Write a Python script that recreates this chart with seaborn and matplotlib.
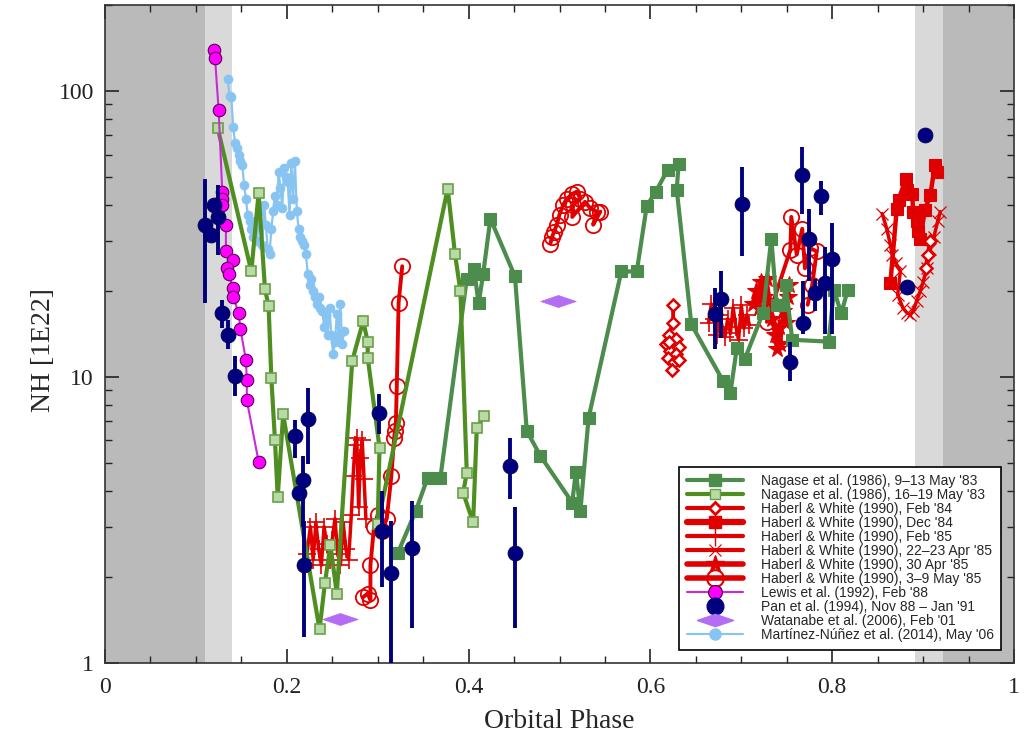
import matplotlib
matplotlib.use("Agg")
import numpy as np
import pandas as pd
import matplotlib.pyplot as plt
from matplotlib.lines import Line2D
from matplotlib.path import Path
from matplotlib.ticker import LogLocator, NullFormatter, MultipleLocator
import seaborn as sns

# ---------------- data ----------------
# Nagase et al. (1986), 9-13 May '83
nag1_phase = [0.322, 0.342, 0.355, 0.369, 0.398, 0.406, 0.411, 0.416, 0.424, 0.451,
              0.464, 0.479, 0.514, 0.518, 0.523, 0.532, 0.568, 0.585, 0.596, 0.606,
              0.619, 0.631, 0.629, 0.645, 0.680, 0.688, 0.695, 0.704, 0.724, 0.733,
              0.739, 0.746, 0.749, 0.756, 0.796, 0.802, 0.810, 0.817]
nag1_nh = [2.42, 3.41, 4.45, 4.45, 22.1, 23.8, 18.1, 22.9, 35.8, 22.5,
           6.48, 5.3, 3.64, 4.67, 3.41, 7.2, 23.4, 23.4, 39.7, 44.5,
           53.1, 55.7, 45.2, 15.3, 9.68, 8.8, 12.6, 11.6, 16.8, 30.5,
           17.8, 17.8, 20.9, 13.5, 13.3, 20.1, 16.7, 20.1]

# Nagase et al. (1986), 16-19 May '83
nag2_phase = [0.124, 0.161, 0.169, 0.176, 0.180, 0.183, 0.187, 0.190, 0.196, 0.236,
              0.242, 0.248, 0.255, 0.272, 0.284, 0.289, 0.289, 0.302, 0.300, 0.377,
              0.385, 0.391, 0.398, 0.394, 0.405, 0.409, 0.417]
nag2_nh = [74.3, 23.4, 44.1, 20.3, 17.7, 9.9, 6.0, 3.8, 7.4, 1.31,
           1.91, 2.58, 1.75, 11.4, 15.7, 13.3, 11.7, 5.66, 3.07, 45.6,
           27.0, 20.0, 4.63, 3.94, 3.1, 6.64, 7.31]

# Haberl & White (1990), Feb '84 (two segments)
hw_feb84_phase = [[0.625, 0.625, 0.620, 0.628, 0.617, 0.631, 0.622, 0.628, 0.619, 0.626, 0.632, 0.624, 0.621],
                  [0.903, 0.905, 0.908]]
hw_feb84_nh = [[17.9, 15.5, 14.0, 13.6, 13.0, 12.7, 12.3, 12.0, 11.7, 11.3, 11.5, 10.6, 13.3],
               [24.0, 26.8, 30.0]]

# Haberl & White (1990), Dec '84
hw_dec84_phase = [[0.864, 0.871, 0.873, 0.881, 0.882, 0.888, 0.889, 0.893, 0.894, 0.897,
                   0.902, 0.908, 0.913, 0.915]]
hw_dec84_nh = [[21.3, 38.8, 41.7, 49.3, 45.2, 43.7, 37.9, 35.0, 32.3, 30.5,
                38.5, 43.4, 55.2, 52.2]]

# Haberl & White (1990), Feb '85 (two segments)
hw_feb85_phase = [[0.222, 0.226, 0.229, 0.232, 0.235, 0.238, 0.241, 0.244, 0.247, 0.250,
                   0.253, 0.256, 0.259, 0.262, 0.265, 0.268, 0.271, 0.273, 0.275, 0.277,
                   0.279, 0.281, 0.283, 0.285, 0.287],
                  [0.664, 0.667, 0.670, 0.673, 0.676, 0.679, 0.682, 0.685, 0.688, 0.691,
                   0.694, 0.697, 0.700, 0.703, 0.706, 0.709]]
hw_feb85_nh = [[2.4, 3.0, 2.3, 3.1, 2.5, 2.2, 3.0, 2.6, 2.3, 2.7,
                3.2, 2.4, 2.2, 3.1, 2.5, 2.3, 3.3, 4.5, 5.8, 6.1,
                3.5, 5.2, 6.0, 4.4, 3.2],
               [15.5, 18.0, 16.0, 14.0, 16.5, 15.0, 13.8, 16.0, 14.2, 17.5,
                15.0, 13.5, 17.8, 14.8, 16.5, 15.2]]

# Haberl & White (1990), 22-23 Apr '85
hw_apr22_phase = [[0.855, 0.860, 0.864, 0.866, 0.870, 0.875, 0.872, 0.878, 0.882, 0.886,
                   0.889, 0.893, 0.897, 0.900, 0.904, 0.908, 0.912, 0.916, 0.919]]
hw_apr22_nh = [[37.3, 33.0, 29.0, 26.8, 25.0, 23.4, 19.4, 17.4, 16.8, 16.5,
                17.0, 18.5, 20.0, 21.5, 24.0, 28.0, 31.0, 35.0, 37.9]]

# Haberl & White (1990), 30 Apr '85
hw_apr30_phase = [[0.713, 0.716, 0.719, 0.722, 0.725, 0.728, 0.731, 0.734, 0.737, 0.739,
                   0.741, 0.743, 0.746, 0.749, 0.751, 0.753]]
hw_apr30_nh = [[18.0, 20.0, 17.5, 21.5, 19.0, 22.0, 18.5, 16.0, 14.0, 12.5,
                15.0, 13.0, 17.0, 15.5, 19.0, 21.0]]

# Haberl & White (1990), 3-9 May '85 (three segments)
hw_may85_phase = [[0.284, 0.289, 0.292, 0.292, 0.296, 0.300, 0.305, 0.310, 0.315, 0.318,
                   0.319, 0.320, 0.321, 0.323, 0.327],
                  [0.490, 0.492, 0.494, 0.497, 0.500, 0.504, 0.508, 0.514, 0.519, 0.523,
                   0.515, 0.514, 0.528, 0.534, 0.541, 0.537, 0.545],
                  [0.728, 0.754, 0.755, 0.761, 0.767, 0.770, 0.776, 0.783, 0.778, 0.773]]
hw_may85_nh = [[1.70, 1.75, 1.66, 2.2, 3.0, 3.3, 2.9, 3.2, 4.5, 6.1,
                6.5, 6.9, 9.3, 18.2, 24.4],
               [29.3, 31.0, 32.2, 34.1, 37.0, 40.0, 42.0, 43.7, 44.5, 42.0,
                40.0, 36.3, 41.0, 38.9, 37.9, 34.1, 37.9],
               [15.6, 27.9, 36.3, 26.8, 33.0, 24.0, 28.2, 27.5, 21.0, 17.9]]

# Lewis et al. (1992), Feb '88
lew_phase = [0.120, 0.121, 0.125, 0.129, 0.129, 0.129, 0.133, 0.133, 0.141, 0.134,
             0.136, 0.141, 0.141, 0.147, 0.149, 0.155, 0.156, 0.156, 0.169]
lew_nh = [139, 131, 85.9, 44.5, 42.0, 40.0, 33.9, 27.5, 25.6, 24.0,
          22.9, 20.4, 19.0, 16.8, 14.7, 11.5, 9.8, 8.3, 5.06]

# Pan et al. (1994), Nov 88 - Jan '91 (value, lower and upper end of error bar)
pan_phase = [0.110, 0.117, 0.120, 0.124, 0.129, 0.135, 0.143, 0.209, 0.213, 0.218,
             0.219, 0.223, 0.301, 0.305, 0.315, 0.338, 0.446, 0.451, 0.671, 0.678,
             0.701, 0.754, 0.767, 0.768, 0.775, 0.781, 0.788, 0.792, 0.800, 0.882,
             0.902]
pan_nh = [34.1, 31.5, 40.0, 36.4, 16.7, 14.0, 10.1, 6.23, 3.94, 4.38,
          2.21, 7.14, 7.5, 2.9, 2.07, 2.52, 4.9, 2.42, 16.6, 18.7,
          40.4, 11.3, 51.0, 15.5, 30.5, 19.6, 43.0, 21.3, 25.8, 20.7,
          70.0]
pan_lo = [18.1, 31.5, 40.0, 26.8, 14.8, 12.5, 8.6, 5.2, 3.94, 3.0,
          1.23, 4.98, 6.3, 1.84, 0.8, 1.33, 3.76, 1.33, 12.5, 13.7,
          26.4, 9.7, 37.1, 14.1, 21.6, 17.0, 36.9, 14.1, 14.1, 20.7,
          70.0]
pan_hi = [49.3, 31.5, 40.0, 47.0, 18.6, 15.8, 11.8, 7.1, 3.94, 5.3,
          3.15, 9.16, 8.7, 4.0, 3.15, 3.7, 6.1, 3.5, 20.4, 23.4,
          54.4, 13.3, 63.7, 21.6, 38.7, 22.0, 48.3, 28.5, 34.5, 20.7,
          70.0]

# Watanabe et al. (2006), Feb '01
wat_phase = [0.259, 0.498]
wat_nh = [1.43, 18.4]

# Martinez-Nunez et al. (2014), May '06
mn_phase = [0.135, 0.137, 0.139, 0.141, 0.143, 0.145, 0.147, 0.149, 0.151, 0.153,
            0.155, 0.157, 0.159, 0.161, 0.163, 0.165, 0.167, 0.169, 0.171, 0.173,
            0.175, 0.177, 0.179, 0.181, 0.183, 0.185, 0.187, 0.189, 0.191, 0.193,
            0.195, 0.197, 0.199, 0.201, 0.203, 0.205, 0.207, 0.209, 0.211, 0.213,
            0.215, 0.217, 0.219, 0.221, 0.223, 0.225, 0.227, 0.229, 0.231, 0.233,
            0.235, 0.237, 0.239, 0.241, 0.243, 0.245, 0.247, 0.249, 0.251, 0.253,
            0.255, 0.257, 0.259, 0.261, 0.263]
mn_nh = [110, 96, 95, 75, 66, 63, 60, 57, 55, 47,
         42, 37, 35, 33, 31, 35, 30, 34, 38, 29,
         40, 34, 28, 27, 33, 38, 43, 40, 52, 46,
         39, 54, 50, 48, 37, 56, 42, 57, 38, 33,
         31, 30, 29, 27, 23, 21, 22, 20, 19, 18,
         19, 17.5, 17, 15, 16.5, 14, 17.5, 14, 12, 13.3,
         16.6, 14, 18, 13, 14.5]

legend_labels = [
    "Nagase et al. (1986), 9\u201313 May '83",
    "Nagase et al. (1986), 16\u201319 May '83",
    "Haberl & White (1990), Feb '84",
    "Haberl & White (1990), Dec '84",
    "Haberl & White (1990), Feb '85",
    "Haberl & White (1990), 22\u201323 Apr '85",
    "Haberl & White (1990), 30 Apr '85",
    "Haberl & White (1990), 3\u20139 May '85",
    "Lewis et al. (1992), Feb '88",
    "Pan et al. (1994), Nov 88 \u2013 Jan '91",
    "Watanabe et al. (2006), Feb '01",
    "Mart\u00ednez-N\u00fa\u00f1ez et al. (2014), May '06",
]

# ---------------- styling ----------------
sns.set_style("ticks")
plt.rcParams["font.family"] = ["Liberation Serif", "DejaVu Serif"]

G1 = "#4c8c4c"
G2 = "#4f8f22"
G2_FILL = "#b9d9a6"
G2_EDGE = "#68a048"
RED = "#e00000"
MAG = "#ff00ff"
MAG_LINE = "#c82ad8"
NAVY = "#00007f"
WAT = "#b46cf5"
LBLUE = "#88c4f2"

fig = plt.figure(figsize=(10.33, 7.34), dpi=100)
ax = fig.add_axes([105 / 1033, 71 / 734, 909 / 1033, 658 / 734])
ax.set_yscale("log")

# eclipse bands
ax.axvspan(0.0, 0.110, facecolor="#bababa", lw=0, zorder=0)
ax.axvspan(0.110, 0.140, facecolor="#d9d9d9", lw=0, zorder=0)
ax.axvspan(0.891, 0.922, facecolor="#d9d9d9", lw=0, zorder=0)
ax.axvspan(0.922, 1.0, facecolor="#bababa", lw=0, zorder=0)


def seg_frame(phase_lists, nh_lists):
    rows = []
    for k, (px, py) in enumerate(zip(phase_lists, nh_lists)):
        for a, b in zip(px, py):
            rows.append((a, b, k))
    return pd.DataFrame(rows, columns=["phase", "nh", "seg"])


def draw(phase_lists, nh_lists, z, **kw):
    df = seg_frame(phase_lists, nh_lists)
    sns.lineplot(data=df, x="phase", y="nh", units="seg", estimator=None,
                 sort=False, ax=ax, legend=False, zorder=z, **kw)


# Martinez-Nunez
draw([mn_phase], [mn_nh], 3, color=LBLUE, linewidth=1.6, marker="o", markersize=6.5,
     markerfacecolor=LBLUE, markeredgecolor=LBLUE, markeredgewidth=0.5)

# Haberl & White
draw(hw_feb85_phase, hw_feb85_nh, 4, color=RED, linewidth=2.5, marker="+", markersize=13,
     markeredgecolor=RED, markeredgewidth=1.2)
draw(hw_apr22_phase, hw_apr22_nh, 4, color=RED, linewidth=2.5, marker="x", markersize=9,
     markeredgecolor=RED, markeredgewidth=0.9)
draw(hw_apr30_phase, hw_apr30_nh, 4, color=RED, linewidth=2.8, marker="*", markersize=13,
     markerfacecolor=RED, markeredgecolor=RED, markeredgewidth=0.8)
draw(hw_dec84_phase, hw_dec84_nh, 4, color=RED, linewidth=3.2, marker="s", markersize=9,
     markerfacecolor=RED, markeredgecolor=RED, markeredgewidth=0.8)
draw(hw_feb84_phase, hw_feb84_nh, 4, color=RED, linewidth=2.8, marker="D", markersize=6.5,
     markerfacecolor="white", markeredgecolor=RED, markeredgewidth=1.8)
draw(hw_may85_phase, hw_may85_nh, 4, color=RED, linewidth=2.8, marker="o", markersize=11,
     markerfacecolor="none", markeredgecolor=RED, markeredgewidth=1.3)

# Nagase
draw([nag1_phase], [nag1_nh], 5, color=G1, linewidth=3.0, marker="s", markersize=9,
     markerfacecolor=G1, markeredgecolor=G1, markeredgewidth=0.8)
draw([nag2_phase], [nag2_nh], 5, color=G2, linewidth=3.0, marker="s", markersize=7.5,
     markerfacecolor=G2_FILL, markeredgecolor=G2_EDGE, markeredgewidth=1.2)

# Lewis
draw([lew_phase], [lew_nh], 6, color=MAG_LINE, linewidth=1.5, marker="o", markersize=9,
     markerfacecolor=MAG, markeredgecolor="#5a005a", markeredgewidth=0.8)

# Pan
pan_arr = np.array(pan_nh)
yerr = [pan_arr - np.array(pan_lo), np.array(pan_hi) - pan_arr]
ax.errorbar(pan_phase, pan_nh, yerr=yerr, fmt="none", ecolor=NAVY, elinewidth=2.8,
            capsize=0, zorder=7)
sns.scatterplot(x=pan_phase, y=pan_nh, color=NAVY, s=115, edgecolor="#000050",
                linewidth=0.6, ax=ax, legend=False, zorder=8)

# Watanabe (wide diamond)
wat_marker = Path([(-1, 0), (0, 0.34), (1, 0), (0, -0.34), (-1, 0)],
                  [Path.MOVETO, Path.LINETO, Path.LINETO, Path.LINETO, Path.CLOSEPOLY])
sns.scatterplot(x=wat_phase, y=wat_nh, marker=wat_marker, s=650, color=WAT,
                edgecolor=WAT, linewidth=0.5, ax=ax, legend=False, zorder=8)

# ---------------- axes ----------------
ax.set_xlim(0, 1)
ax.set_ylim(1, 200)
ax.set_xticks([0, 0.2, 0.4, 0.6, 0.8, 1.0])
ax.set_xticklabels(["0", "0.2", "0.4", "0.6", "0.8", "1"])
ax.xaxis.set_minor_locator(MultipleLocator(0.05))
ax.set_yticks([1, 10, 100])
ax.set_yticklabels(["1", "10", "100"])
ax.yaxis.set_minor_locator(LogLocator(base=10, subs=np.arange(2, 10)))
ax.yaxis.set_minor_formatter(NullFormatter())
ax.tick_params(which="both", direction="in", top=True, right=True, colors="#222222")
ax.tick_params(which="major", length=10, width=1.2, labelsize=17)
ax.tick_params(axis="x", which="major", pad=10)
ax.tick_params(axis="y", which="major", pad=8)
ax.tick_params(which="minor", length=5, width=1.0)
for sp in ax.spines.values():
    sp.set_color("#333333")
    sp.set_linewidth(1.2)

ax.set_xlabel("Orbital Phase", fontsize=20, labelpad=8)
ax.set_ylabel("NH [1E22]", fontsize=20)
ax.yaxis.set_label_coords(-0.054, 0.476)

# ---------------- legend ----------------
handles = [
    Line2D([], [], color=G1, lw=3, marker="s", ms=9, mfc=G1, mec=G1),
    Line2D([], [], color=G2, lw=3, marker="s", ms=7, mfc=G2_FILL, mec=G2_EDGE, mew=1),
    Line2D([], [], color=RED, lw=3, marker="D", ms=6, mfc="white", mec=RED, mew=2),
    Line2D([], [], color=RED, lw=4.5, marker="s", ms=9, mfc=RED, mec=RED),
    Line2D([], [], color=RED, lw=3, marker="|", ms=14, mec=RED, mew=1),
    Line2D([], [], color=RED, lw=3, marker="x", ms=9, mec=RED, mew=0.8),
    Line2D([], [], color=RED, lw=4, marker="*", ms=13, mfc=RED, mec=RED),
    Line2D([], [], color=RED, lw=4, marker="o", ms=12, mfc="none", mec=RED, mew=1.5),
    Line2D([], [], color=MAG_LINE, lw=1.5, marker="o", ms=10, mfc=MAG, mec="#400040", mew=0.8),
    Line2D([], [], ls="none", marker="o", ms=12, mfc=NAVY, mec=NAVY),
    Line2D([], [], ls="none", marker=wat_marker, ms=26, mfc=WAT, mec=WAT),
    Line2D([], [], color=LBLUE, lw=1.5, marker="o", ms=8, mfc=LBLUE, mec=LBLUE),
]
leg = ax.legend(handles, legend_labels, loc="lower right", bbox_to_anchor=(0.986, 0.0198),
                prop={"family": ["Liberation Sans", "DejaVu Sans"], "size": 10},
                frameon=True, fancybox=False, edgecolor="black", framealpha=1,
                handlelength=4.0, handletextpad=1.3, labelspacing=0.0,
                borderpad=0.55, borderaxespad=0, numpoints=1)
leg.get_frame().set_linewidth(1.2)
leg.set_zorder(20)

fig.savefig("out.png", dpi=100)
